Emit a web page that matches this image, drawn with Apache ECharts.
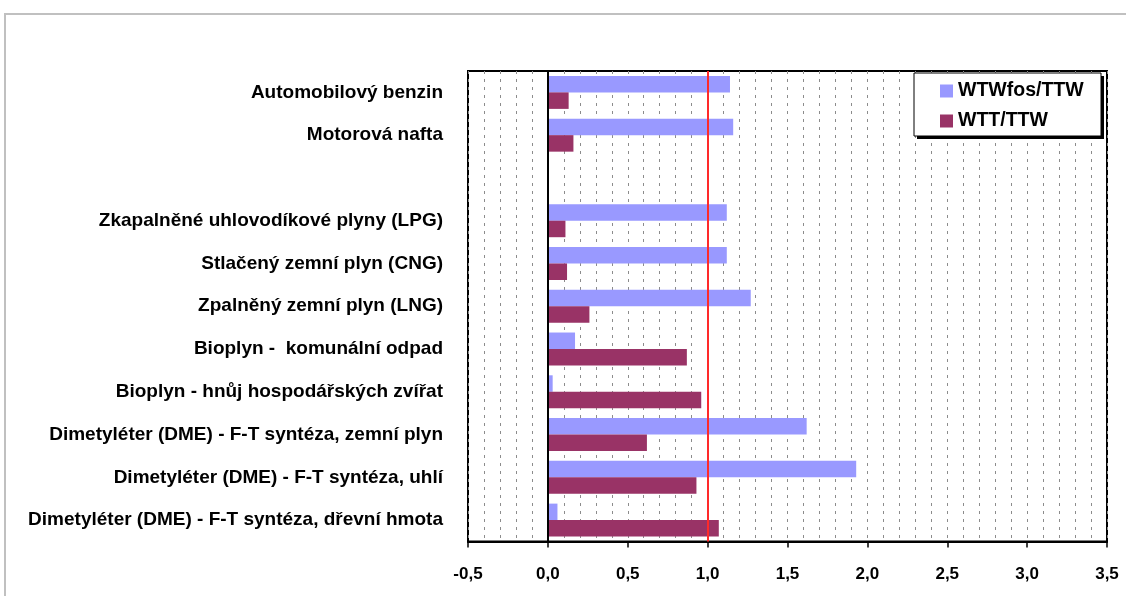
<!DOCTYPE html>
<html>
<head>
<meta charset="utf-8">
<title>WTW / TTW</title>
<script src="https://cdn.jsdelivr.net/npm/echarts@6/dist/echarts.min.js"></script>
<style>
  html, body { margin: 0; padding: 0; background: #ffffff; }
  #chart { width: 1126px; height: 596px; }
</style>
</head>
<body>
<div id="chart"></div>
<script>
// Fuel pathways, top to bottom (the empty entry is a spacer row)
const categories = [
  'Automobilový benzin',
  'Motorová nafta',
  '',
  'Zkapalněné uhlovodíkové plyny (LPG)',
  'Stlačený zemní plyn (CNG)',
  'Zpalněný zemní plyn (LNG)',
  'Bioplyn -  komunální odpad',
  'Bioplyn - hnůj hospodářských zvířat',
  'Dimetyléter (DME) - F-T syntéza, zemní plyn',
  'Dimetyléter (DME) - F-T syntéza, uhlí',
  'Dimetyléter (DME) - F-T syntéza, dřevní hmota'
];

const seriesNames = ['WTWfos/TTW', 'WTT/TTW'];

// Ratios per pathway
const wtwFosTtw = [1.14, 1.16, null, 1.12, 1.12, 1.27, 0.17, 0.03, 1.62, 1.93, 0.06];
const wttTtw    = [0.13, 0.16, null, 0.11, 0.12, 0.26, 0.87, 0.96, 0.62, 0.93, 1.07];

// Value axis ticks
const xTicks = [-0.5, 0.0, 0.5, 1.0, 1.5, 2.0, 2.5, 3.0, 3.5];
const referenceValue = 1.0;

const FONT = '"Liberation Sans", Arial, sans-serif';

const chart = echarts.init(document.getElementById('chart'), null, { renderer: 'canvas' });

chart.setOption({
  animation: false,
  backgroundColor: '#ffffff',
  textStyle: { fontFamily: FONT },
  graphic: [
    // outer frame
    {
      type: 'rect', z: 0, silent: true,
      shape: { x: 5, y: 14, width: 1140, height: 620 },
      style: { fill: null, stroke: '#c0c0c0', lineWidth: 2 }
    },
    // legend box shadow
    {
      type: 'rect', z: 3, silent: true,
      shape: { x: 917, y: 76, width: 187, height: 63 },
      style: { fill: '#000000' }
    },
    // legend box
    {
      type: 'rect', z: 3, silent: true,
      shape: { x: 914, y: 73, width: 187, height: 63 },
      style: { fill: '#ffffff', stroke: '#000000', lineWidth: 1 }
    }
  ],
  legend: {
    z: 5,
    orient: 'vertical',
    left: 940,
    top: 81,
    itemWidth: 13,
    itemHeight: 13,
    itemGap: 10,
    icon: 'rect',
    padding: 0,
    textStyle: { fontFamily: FONT, fontSize: 19.5, fontWeight: 'bold', color: '#000000' },
    data: seriesNames
  },
  grid: {
    left: 468,
    top: 71,
    width: 639,
    height: 470.5,
    show: true,
    borderColor: '#000000',
    borderWidth: 2,
    backgroundColor: 'transparent'
  },
  xAxis: {
    type: 'value',
    min: xTicks[0],
    max: xTicks[xTicks.length - 1],
    interval: 0.5,
    axisLine: { show: true, onZero: false, lineStyle: { color: '#000000', width: 2 } },
    axisTick: { show: true, inside: false, length: 6, lineStyle: { color: '#000000', width: 1.5 } },
    axisLabel: {
      margin: 24,
      fontFamily: FONT,
      fontSize: 17,
      fontWeight: 'bold',
      color: '#000000',
      formatter: v => v.toFixed(1).replace('.', ',')
    },
    splitLine: { show: true, lineStyle: { color: '#8c8c8c', width: 1, type: [3, 5] } },
    minorTick: { show: false, splitNumber: 5 },
    minorSplitLine: { show: true, lineStyle: { color: '#8c8c8c', width: 1, type: [3, 5] } }
  },
  yAxis: {
    type: 'category',
    inverse: true,
    data: categories,
    axisLine: { show: false, onZero: false },
    axisTick: { show: false },
    splitLine: { show: false },
    axisLabel: {
      margin: 25,
      fontFamily: FONT,
      fontSize: 19,
      fontWeight: 'bold',
      color: '#000000',
      padding: [0, 0, 9, 0]
    }
  },
  series: [
    {
      name: seriesNames[0],
      type: 'bar',
      data: wtwFosTtw,
      barWidth: 16.5,
      barGap: '0%',
      itemStyle: { color: '#9999ff' },
      markLine: {
        silent: true,
        symbol: 'none',
        label: { show: false },
        z: 6,
        data: [
          { xAxis: 0, lineStyle: { color: '#000000', width: 2, type: 'solid' } },
          { xAxis: referenceValue, lineStyle: { color: '#ff2a2a', width: 2, type: 'solid' } }
        ]
      }
    },
    {
      name: seriesNames[1],
      type: 'bar',
      data: wttTtw,
      barWidth: 16.5,
      barGap: '0%',
      itemStyle: { color: '#993366' }
    }
  ]
});
</script>
</body>
</html>
